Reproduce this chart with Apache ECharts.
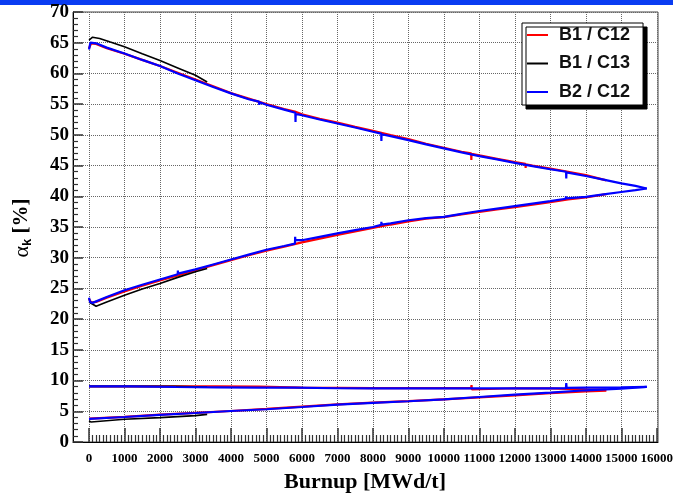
<!DOCTYPE html>
<html>
<head>
<meta charset="utf-8">
<script src="https://cdn.jsdelivr.net/npm/echarts@6/dist/echarts.min.js"></script>
<style>
html,body{margin:0;padding:0;background:#fff;}
#chart{width:676px;height:495px;}
</style>
</head>
<body>
<div id="chart"></div>
<script>
// ---- data (burnup MWd/t, alpha_k %) ----
const seriesNames = ['B1 / C12', 'B1 / C13', 'B2 / C12'];
const xTicks = [0,1000,2000,3000,4000,5000,6000,7000,8000,9000,10000,11000,12000,13000,14000,15000,16000];
const yTicks = [0,5,10,15,20,25,30,35,40,45,50,55,60,65,70];

const redUpper = [[0,64.1],[60,64.9],[200,64.8],[500,64.1],[1000,63.2],[1500,62.2],[2000,61.2],[2500,60.1],[3000,59.0],[3500,57.9],[4000,56.8],[4500,55.9],[5000,55.0],[5500,54.2],[5800,53.8],[6000,53.35],[6500,52.6],[7000,52.0],[7500,51.3],[8000,50.65],[8500,49.95],[9000,49.3],[9500,48.55],[10000,47.9],[10500,47.25],[10770,47.0],[10775,45.9],[10780,46.9],[11000,46.65],[11500,46.1],[12000,45.55],[12300,45.3],[12305,44.6],[12310,45.2],[12500,45.0],[13000,44.5],[13500,44.0],[14000,43.45],[14580,42.6]];
const redLower = [[0,23.3],[60,22.7],[200,22.8],[500,23.5],[1000,24.5],[1500,25.45],[2000,26.3],[2500,27.1],[3000,27.95],[3500,28.8],[4000,29.6],[4500,30.4],[5000,31.15],[5500,31.8],[6000,32.5],[6500,33.1],[7000,33.7],[7500,34.3],[8000,34.85],[8500,35.4],[9000,35.9],[9500,36.35],[10000,36.6],[10500,37.05],[11000,37.45],[11500,37.85],[12000,38.25],[12500,38.65],[13000,39.05],[13500,39.5],[14000,39.8],[14580,40.35]];
const redFlat = [[0,9.05],[3600,9.05],[4800,9.0],[6000,8.85],[8000,8.78],[10770,8.78],[10780,9.25],[10790,8.55],[10800,8.75],[12000,8.75],[13000,8.72],[14000,8.58],[14580,8.55]];
const redBottom = [[0,3.8],[1000,4.1],[2000,4.45],[3000,4.75],[4000,5.05],[5000,5.38],[6000,5.75],[7000,6.12],[8000,6.4],[9000,6.65],[10000,6.95],[11000,7.25],[12000,7.6],[13000,7.95],[14000,8.25],[14580,8.35]];

const blackUpper = [[0,65.4],[100,65.9],[300,65.7],[600,65.1],[1000,64.35],[1500,63.2],[2000,62.1],[2500,60.9],[3000,59.7],[3330,58.6]];
const blackLower = [[0,22.8],[200,22.1],[500,22.8],[1000,23.9],[1500,24.9],[2000,25.8],[2500,26.8],[3000,27.7],[3330,28.25]];
const blackFlat = [[0,9.05],[2400,9.05],[3330,8.95]];
const blackBottom = [[0,3.42],[60,3.26],[1000,3.7],[2000,3.97],[3000,4.3],[3330,4.5]];

const blueUpper = [[0,63.9],[40,65.0],[200,64.9],[500,64.2],[1000,63.25],[1500,62.2],[2000,61.2],[2500,60.0],[3000,58.9],[3500,57.8],[4000,56.75],[4500,55.8],[4790,55.4],[4800,54.9],[4810,55.3],[5000,54.9],[5500,54.1],[5815,53.6],[5820,52.1],[5825,53.4],[6000,53.2],[6500,52.5],[7000,51.85],[7500,51.2],[8000,50.5],[8235,50.2],[8240,49.0],[8245,50.1],[8500,49.8],[9000,49.15],[9500,48.45],[10000,47.8],[10500,47.15],[11000,46.55],[11500,46.0],[12000,45.45],[12500,44.9],[13000,44.4],[13445,44.0],[13450,42.9],[13455,43.9],[14000,43.3],[14500,42.7],[15000,42.1],[15400,41.7],[15720,41.27]];
const blueLower = [[0,23.5],[30,22.8],[100,22.65],[500,23.6],[1000,24.7],[1500,25.6],[2000,26.45],[2500,27.3],[2505,27.9],[2510,27.4],[3000,28.1],[3500,28.9],[4000,29.7],[4500,30.5],[5000,31.3],[5500,31.9],[5805,32.3],[5810,33.4],[5815,32.85],[6000,32.85],[6500,33.4],[7000,33.95],[7500,34.5],[8000,35.0],[8235,35.35],[8240,35.85],[8245,35.4],[8500,35.6],[9000,36.1],[9500,36.45],[10000,36.65],[10500,37.15],[11000,37.6],[11500,38.0],[12000,38.4],[12500,38.8],[13000,39.2],[13435,39.6],[13440,40.0],[13445,39.65],[14000,39.9],[14500,40.3],[15000,40.7],[15400,41.0],[15720,41.27]];
const blueFlat = [[0,9.07],[1150,9.07],[1200,8.95],[2450,8.95],[2460,8.8],[2470,8.95],[3600,8.9],[4800,8.85],[5800,8.85],[5810,9.0],[5820,8.8],[7000,8.75],[8000,8.72],[9000,8.72],[9010,8.95],[9020,8.72],[11700,8.72],[11710,8.95],[11720,8.72],[13000,8.72],[13440,8.75],[13450,9.6],[13460,8.8],[14000,8.85],[15000,8.9],[15720,8.96]];
const blueBottom = [[0,3.75],[1000,4.07],[2000,4.4],[3000,4.72],[4000,5.05],[5000,5.33],[6000,5.7],[7000,6.09],[8000,6.36],[9000,6.63],[10000,6.95],[11000,7.33],[12000,7.72],[13000,8.04],[14000,8.42],[15000,8.7],[15720,8.96]];

const groups = [
  {name: seriesNames[0], color: '#ff0000', width: 2.2, parts: [redUpper, redLower, redFlat, redBottom]},
  {name: seriesNames[1], color: '#000000', width: 1.6, parts: [blackUpper, blackLower, blackFlat, blackBottom]},
  {name: seriesNames[2], color: '#0000ff', width: 2.2, parts: [blueUpper, blueLower, blueFlat, blueBottom]}
];

const series = [];
groups.forEach(g => {
  g.parts.forEach(p => {
    series.push({
      name: g.name, type: 'line', data: p, symbol: 'none', showSymbol: false,
      xAxisIndex: 1, yAxisIndex: 1,
      clip: false, animation: false,
      itemStyle: {color: g.color},
      lineStyle: {color: g.color, width: g.width}
    });
  });
});

const serif = '"Liberation Serif", "Times New Roman", serif';
function gridLine() { return {show: true, lineStyle: {color: '#666', width: 1, type: 'dotted'}}; }
// frame: x from -460 to 16000 over 585 px => x = 0 sits at 73 + 460/16460*585
const frameLeft = 73, frameRight = 18;
const zeroLeft = Math.round(frameLeft + 460 / 16460 * (676 - frameLeft - frameRight));

const chart = echarts.init(document.getElementById('chart'), null, {renderer: 'canvas'});
chart.setOption({
  animation: false,
  backgroundColor: '#ffffff',
  grid: [
    {left: frameLeft, right: frameRight, top: 12, bottom: 53, show: true, borderColor: '#444', borderWidth: 1},
    {left: zeroLeft, right: frameRight, top: 12, bottom: 53, show: false}
  ],
  xAxis: [
    {
      gridIndex: 0, type: 'value', min: -460, max: 16000,
      axisLine: {onZero: false, lineStyle: {color: '#000', width: 1}},
      axisTick: {show: false}, splitLine: {show: false}, axisLabel: {show: false}
    },
    {
      gridIndex: 1, type: 'value', min: xTicks[0], max: xTicks[xTicks.length - 1], interval: 1000,
      axisLine: {show: true, onZero: false, lineStyle: {color: '#000', width: 1}},
      axisTick: {show: true, inside: true, length: 14, lineStyle: {color: '#333', width: 1.5}},
      minorTick: {show: true, splitNumber: 10, length: 7, lineStyle: {color: '#333', width: 1.2}},
      splitLine: gridLine(),
      axisLabel: {margin: 10, color: '#000', fontFamily: serif, fontWeight: 'bold', fontSize: 13,
        showMaxLabel: true, hideOverlap: false, formatter: v => String(v)}
    }
  ],
  yAxis: [
    {
      gridIndex: 0, type: 'value', min: yTicks[0], max: yTicks[yTicks.length - 1], interval: 5,
      axisLine: {show: true, onZero: false, lineStyle: {color: '#000', width: 1}},
      axisTick: {show: true, inside: true, length: 10, lineStyle: {color: '#333', width: 1.5}},
      minorTick: {show: true, splitNumber: 5, length: 5, lineStyle: {color: '#333', width: 1.2}},
      splitLine: gridLine(),
      axisLabel: {margin: 4, color: '#000', fontFamily: serif, fontWeight: 'bold', fontSize: 19}
    },
    {
      gridIndex: 1, type: 'value', min: yTicks[0], max: yTicks[yTicks.length - 1], show: false
    }
  ],
  legend: {
    left: 522, top: 23, orient: 'vertical', icon: 'rect',
    padding: [2, 13, 3, 5], itemGap: 8.5, itemWidth: 21, itemHeight: 2,
    backgroundColor: '#fff', borderColor: '#000', borderWidth: 1, borderRadius: 0,
    shadowColor: '#000', shadowOffsetX: 4, shadowOffsetY: 4, shadowBlur: 0.01,
    data: seriesNames,
    textStyle: {fontFamily: '"Liberation Sans", Arial, sans-serif', fontWeight: 'bold', fontSize: 18, lineHeight: 20, color: '#111', padding: [0, 0, 0, 6]}
  },
  graphic: [
    {type: 'rect', left: 0, top: 0, shape: {x: 0, y: 0, width: 673, height: 5}, style: {fill: '#0a3cf2'}, silent: true},
    {type: 'text', x: 365, y: 482, silent: true,
      style: {text: 'Burnup [MWd/t]', fill: '#000', font: 'bold 22px ' + serif, align: 'center', verticalAlign: 'middle'}},
    {type: 'text', x: 22, y: 228, rotation: Math.PI / 2, silent: true,
      style: {
        text: '{a|α}{k|k}{b| [%]}', align: 'center', verticalAlign: 'middle',
        rich: {
          a: {fontFamily: serif, fontSize: 22, fill: '#000', fontWeight: 'normal'},
          k: {fontFamily: '"Liberation Sans", Arial, sans-serif', fontSize: 13, fontWeight: 'bold', fill: '#000', padding: [10, 0, 0, 0]},
          b: {fontFamily: serif, fontSize: 21, fontWeight: 'bold', fill: '#000'}
        }
      }}
  ],
  series: series
});
</script>
</body>
</html>
